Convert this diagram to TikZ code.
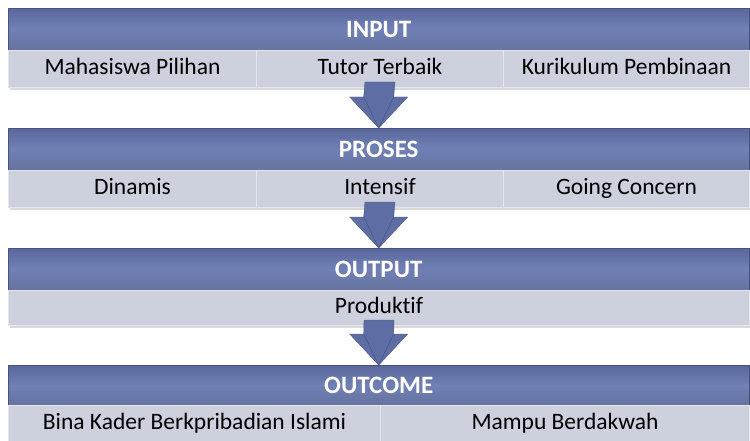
\documentclass[tikz,border=0pt]{standalone}
\usepackage{fontspec}
\setmainfont{Carlito}[Ligatures=NoCommon]
\usetikzlibrary{calc,shadows}
\definecolor{hdtop}{HTML}{5A679C}
\definecolor{hdmid}{HTML}{7080B5}
\definecolor{hdbot}{HTML}{66739F}
\definecolor{cellfill}{HTML}{CDD0DD}
\definecolor{cellline}{HTML}{E4E6EE}
\definecolor{arrowfill}{HTML}{5E6DA3}
\definecolor{arrowdark}{HTML}{4A5788}
\tikzset{
  header/.style={anchor=north west, minimum width=741pt, minimum height=42pt, inner sep=0pt,
    top color=hdtop, bottom color=hdbot, middle color=hdmid, draw=hdtop!80!black, line width=0.4pt,
    text=white, font=\fontsize{25}{28}\selectfont\bfseries, text height=17pt, text depth=0pt,
    drop shadow={shadow xshift=1.5pt, shadow yshift=-2pt, opacity=0.35}},
  cell/.style={anchor=north west, minimum height=37pt, inner sep=0pt, fill=cellfill, draw=cellline, line width=1pt,
    text=black, font=\fontsize{23.5}{28}\selectfont, text height=16pt, text depth=5pt},
  bigarrow/.style={fill=arrowfill, draw=arrowdark, line width=0.4pt, line join=miter}
}
\begin{document}
\begin{tikzpicture}[x=1pt,y=-1pt]
\useasboundingbox (0,0) rectangle (750,441);
% shadows under sub rows
\foreach \yy in {87,207,325}{\fill[black,opacity=0.15] (10,\yy) rectangle (751,\yy+3);}
% INPUT
\node[header] (h1) at (8,8) {INPUT};
\node[cell, minimum width=248pt] (c11) at (8,50) {Mahasiswa Pilihan};
\node[cell, minimum width=247pt] (c12) at (256,50) {Tutor Terbaik};
\node[cell, minimum width=246pt] (c13) at (503,50) {Kurikulum Pembinaan};
% PROSES
\node[header] (h2) at (8,128) {PROSES};
\node[cell, minimum width=248pt] (c21) at (8,170) {Dinamis};
\node[cell, minimum width=247pt] (c22) at (256,170) {Intensif};
\node[cell, minimum width=246pt] (c23) at (503,170) {Going Concern};
% OUTPUT
\node[header] (h3) at (8,248) {OUTPUT};
\node[cell, minimum width=741pt, minimum height=35pt] (c31) at (8,290) {Produktif};
% OUTCOME
\node[header, minimum height=40pt] (h4) at (8,365) {OUTCOME};
\node[cell, minimum width=372pt, minimum height=36pt] (c41) at (8,405) {Bina Kader Berkpribadian Islami};
\node[cell, minimum width=369pt, minimum height=36pt] (c42) at (380,405) {Mampu Berdakwah};
% arrows
\foreach \a/\b in {c12/h2, c22/h3, c31/h4}{
  \path (\a.south) coordinate (s) (\b.north) coordinate (t);
  \path[bigarrow] ($(s)+(-15,-6)$) -- ($(s)+(15,-6)$) -- ($(t)+(15,-31)$) -- ($(t)+(29,-31)$) -- (t)
     -- ($(t)+(-29,-31)$) -- ($(t)+(-15,-31)$) -- cycle;
  \draw[arrowdark, line width=0.6pt] ($(t)+(-15,-31)$) -- (t) -- ($(t)+(15,-31)$);
}
\end{tikzpicture}
\end{document}
